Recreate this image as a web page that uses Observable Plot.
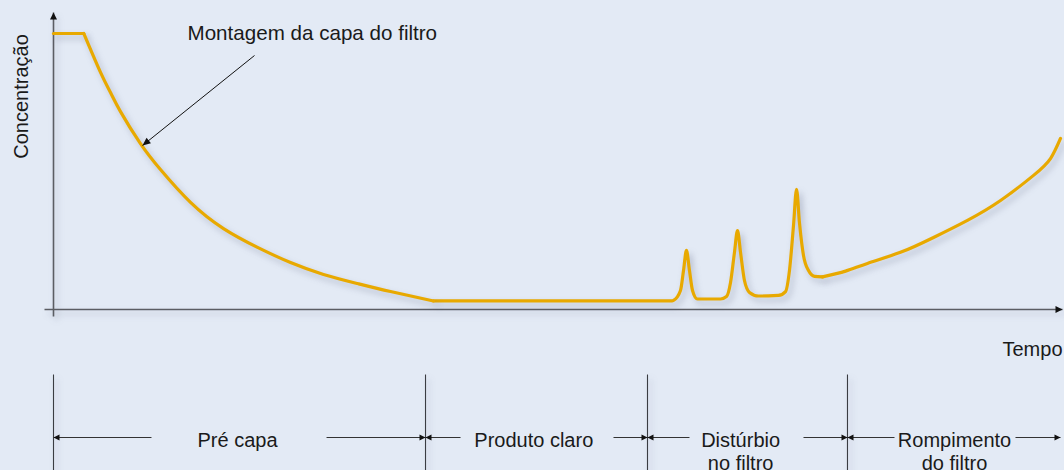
<!DOCTYPE html>
<html>
<head>
<meta charset="utf-8">
<script src="https://cdn.jsdelivr.net/npm/d3@7"></script>
<script src="https://cdn.jsdelivr.net/npm/@observablehq/plot@0.6"></script>
<style>
  html, body { margin: 0; padding: 0; background: #e3eaf5; }
  #chart { width: 1064px; height: 470px; overflow: hidden; }
</style>
</head>
<body>
<div id="chart"></div>
<script>
// ---- Data ----
// curve pieces: plateau, decay after the filter cap forms, clear product + disturbance peaks, breakthrough rise
const segment = [
  "plateau","plateau",
  "decay","decay","decay","decay","decay","decay","decay","decay","decay","decay","decay","decay","decay","decay",
  "peaks","peaks","peaks","peaks","peaks","peaks","peaks","peaks","peaks","peaks",
  "peaks","peaks","peaks","peaks","peaks","peaks","peaks","peaks","peaks","peaks",
  "peaks","peaks","peaks","peaks","peaks","peaks","peaks","peaks",
  "rise","rise","rise","rise","rise","rise","rise","rise","rise","rise"
];
const time = [
  0, 3.0,
  3.0, 4.66, 5.65, 6.64, 8.62, 10.6, 13.58, 16.85, 20.22, 23.49, 26.76, 30.13, 33.4, 37.66,
  37.66, 61.3, 61.45, 62.14, 62.44, 62.73, 63.03, 63.33, 63.82, 66.11,
  66.7, 67.1, 67.49, 67.79, 68.09, 68.48, 68.98, 69.87, 71.85, 72.55,
  72.94, 73.34, 73.64, 73.93, 74.33, 74.83, 75.42, 76.21,
  76.21, 78.5, 80.67, 83.94, 87.22, 90.58, 93.86, 97.13, 98.81, 99.8
];
const concentration = [
  100, 100,
  100, 85.9, 78.6, 71.7, 60.1, 50.7, 38.8, 29.3, 22.5, 17.0, 12.7, 9.4, 6.5, 3.1,
  3.1, 3.1, 3.3, 6.9, 14.1, 21.4, 14.1, 6.9, 3.8, 3.8,
  4.7, 9.8, 20.7, 28.6, 20.7, 10.5, 6.2, 4.9, 5.1, 6.5,
  14.1, 30.4, 43.5, 31.5, 19.6, 14.1, 12.0, 11.8,
  11.8, 13.9, 16.7, 20.7, 26.1, 32.3, 39.5, 48.6, 54.7, 62.0
];

// phases of the filtration (time units)
const phaseNames = ["Pré capa", "Produto claro", "Distúrbio\nno filtro", "Rompimento\ndo filtro"];
const phaseStart = [0, 36.87, 58.87, 78.69];
const phaseEnd = [36.87, 58.87, 78.69, 99.8];
const phaseLabelAt = [18.24, 47.6, 68.1, 89.3];
const phaseGapStart = [9.71, 40.34, 63.03, 83.35];
const phaseGapEnd = [27.06, 55.5, 74.33, 95.34];

// texts
const yLabel = "Concentração";
const xLabel = "Tempo";
const annotationText = "Montagem da capa do filtro";

// ---- Build tables ----
const curve = time.map((t, i) => ({t, c: concentration[i], seg: segment[i]}));
const phases = phaseNames.map((name, i) => ({
  name, start: phaseStart[i], end: phaseEnd[i], at: phaseLabelAt[i],
  gs: phaseGapStart[i], ge: phaseGapEnd[i]
}));

const xDomain = [0, 100], xRange = [53, 1062];
const yDomain = [0, 100], yRange = [309, 33];
const xs = d3.scaleLinear(xDomain, xRange), ys = d3.scaleLinear(yDomain, yRange);
const cAt = (py) => ys.invert(py);
const tAt = (px) => xs.invert(px);

const arrowLevel = cAt(437);
const tickTop = cAt(374), tickBottom = cAt(472);
const labelTop = cAt(430);

// arrow head symbol: tip at origin, pointing up
const head = (len, half) => ({
  draw(ctx) { ctx.moveTo(0, 0); ctx.lineTo(-half, len); ctx.lineTo(half, len); ctx.closePath(); }
});

const axes = [
  {x1: tAt(44), y1: 0, x2: 100, y2: 0},
  {x1: 0, y1: cAt(316), x2: 0, y2: cAt(12)}
];
const axisHeads = [
  {x: 100, y: 0, a: 90},
  {x: 0, y: cAt(12), a: 0}
];

const ann = {x1: tAt(254), y1: cAt(55), x2: tAt(142), y2: cAt(145)};
ann.a = Math.atan2(xs(ann.x2) - xs(ann.x1), -(ys(ann.y2) - ys(ann.y1))) * 180 / Math.PI;

const phaseLines = phases.flatMap(p => [
  {x1: p.start, x2: p.gs}, {x1: p.ge, x2: p.end}
]);
const phaseHeads = phases.flatMap(p => [
  {x: p.start, a: -90}, {x: p.end, a: 90}
]);
const ticks = phaseStart;

const shadow = "drop-shadow(3px 4px 3px rgba(60,70,100,0.28))";
const lineStyle = {x: "t", y: "c", z: "seg", stroke: "#e8a900", strokeWidth: 3.2,
  strokeLinejoin: "round", strokeLinecap: "round", imageFilter: shadow};

const chart = Plot.plot({
  width: 1064,
  height: 470,
  margin: 0,
  x: {domain: xDomain, range: xRange, axis: null},
  y: {domain: yDomain, range: yRange, axis: null},
  style: {background: "#e3eaf5", fontFamily: "'Liberation Sans', Arial, sans-serif", fontSize: "20px", color: "#1a1a1a", overflow: "visible"},
  marks: [
    // axes
    Plot.link(axes, {x1: "x1", y1: "y1", x2: "x2", y2: "y2", stroke: "#5b5d63", strokeWidth: 1.6, imageFilter: shadow}),
    Plot.dot(axisHeads, {x: "x", y: "y", rotate: "a", symbol: head(7, 3.5), fill: "#111", stroke: "none"}),
    // curve
    Plot.line(curve.filter(d => d.seg === "plateau" || d.seg === "peaks"), {...lineStyle, curve: "monotone-x"}),
    Plot.line(curve.filter(d => d.seg === "decay" || d.seg === "rise"), {...lineStyle, curve: "natural"}),
    // annotation
    Plot.link([ann], {x1: "x1", y1: "y1", x2: "x2", y2: "y2", stroke: "#111", strokeWidth: 1}),
    Plot.dot([ann], {x: "x2", y: "y2", rotate: "a", symbol: head(8, 3.5), fill: "#111", stroke: "none"}),
    Plot.text([annotationText], {x: tAt(187), y: cAt(33), text: d => d, textAnchor: "start", fill: "#1a1a1a", fontSize: 20.6}),
    // axis titles
    Plot.text([xLabel], {x: tAt(1062), y: cAt(349.5), text: d => d, textAnchor: "end", fill: "#1a1a1a", fontSize: 20}),
    Plot.text([yLabel], {x: tAt(21), y: cAt(96), text: d => d, rotate: -90, fill: "#1a1a1a", fontSize: 20}),
    // phase band
    Plot.link(ticks, {x1: d => d, x2: d => d, y1: tickTop, y2: tickBottom, stroke: "#3a3c42", strokeWidth: 1.1, imageFilter: shadow}),
    Plot.link(phaseLines, {x1: "x1", x2: "x2", y1: arrowLevel, y2: arrowLevel, stroke: "#333", strokeWidth: 1.1}),
    Plot.dot(phaseHeads, {x: "x", y: arrowLevel, rotate: "a", symbol: head(6, 3), fill: "#111", stroke: "none"}),
    Plot.text(phases, {x: "at", y: labelTop, text: "name", lineAnchor: "top", lineHeight: 1.15, textAnchor: "middle", fill: "#1a1a1a", fontSize: 20})
  ]
});
document.getElementById("chart").appendChild(chart);
</script>
</body>
</html>
